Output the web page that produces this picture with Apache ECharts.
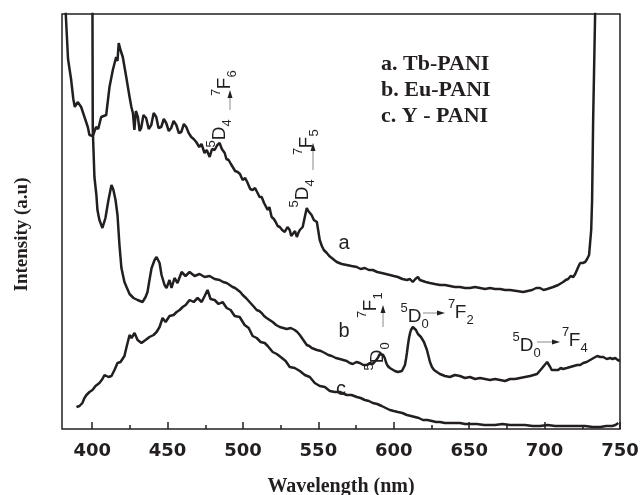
<!DOCTYPE html>
<html>
<head>
<meta charset="utf-8">
<title>PL spectra</title>
<script src="https://cdn.jsdelivr.net/npm/echarts@6/dist/echarts.min.js"></script>
<style>
	html, body { margin: 0; padding: 0; background: #fff; }
	#chart { width: 641px; height: 495px; }
</style>
</head>
<body>
<div id="chart"></div>
<script>
// wavelength (nm), intensity (a.u., arbitrary scale 0-415)
var curveA = [[381,480],[382.5,415],[384,370],[386,350],[387.5,330],[388.5,322],[390.4,327],[392.7,322],[394.9,312],[397.1,302],[398.2,294],[400.4,293],[402.6,302],[404,300],[406,312],[409.3,314],[411.5,342],[413.7,359],[415.9,372],[416.8,368],[417.6,386],[419,378],[420.3,372],[422.6,352],[424.8,332],[426,322],[427,316],[428,299],[429,318],[430.3,312],[431.5,298],[432.5,301],[434,314],[435.8,311],[437.5,300],[439.2,304],[440.8,316],[442.5,312],[444,301],[445.8,302],[447.5,310],[449.1,306],[450.8,298],[452.4,301],[454,308],[455.8,304],[457.5,296],[459.1,297],[460.8,305],[462.4,302],[464,296],[465.7,292],[467.3,290],[469,287],[471,282],[472.5,285],[474.5,276],[476,279],[477.9,272],[479.5,280],[481.2,279],[483,284],[484.5,286],[486,280],[487.9,276],[489,270],[490.5,269],[492,265],[493.1,266],[494.8,258],[496.5,257],[498,255],[499.8,249],[501.5,251],[503.1,246],[504.8,240],[506.4,239],[508,241],[509.7,236],[511,232],[512.4,232],[514,226],[516.4,219],[517.5,222],[519,212],[520.5,210],[521.7,207],[523,203],[524.4,202],[526,199],[527.7,197],[529.5,202],[531,199],[532,193],[533,194],[534.5,198],[535.7,192],[536.7,196],[537.7,199],[539.6,202],[541,212],[542.3,221],[543.3,218],[544.3,217],[545.5,214],[547,209],[549,207],[550.9,189],[552.3,183],[553.6,179],[555.6,176],[557.2,173],[558.9,171],[560.5,169],[562.2,167],[565.5,165],[568.8,164],[572,163],[575.5,162],[578,160],[580.8,161],[583.5,159],[586.1,159],[589,157],[592,156],[594.7,155],[597.4,154],[600,153],[602.7,152],[605.7,150],[608.7,149],[610.7,150],[612.6,147],[614.3,150],[616,152],[617.3,149],[618.6,147],[621.2,147],[623.9,146],[627.2,145],[630.6,144],[633.9,144],[637.2,143],[640.5,142],[643.9,142],[647.2,141],[650.5,141],[653.9,142],[657.2,141],[660.5,140],[663.8,141],[667.1,140],[670.5,140],[673.8,139],[677.1,139],[681.5,138],[685.8,137],[688.7,138],[691.7,139],[694.4,141],[697,141],[699.3,139],[701.7,140],[703.7,141],[705.7,142],[709,144],[712.3,147],[714,149],[715.6,150],[717.3,153],[719,152],[720.3,155],[721.6,157],[722.6,163],[723.6,166],[725.3,166],[726.9,167],[728.2,170],[729.5,174],[730.9,199],[731.5,229],[732.2,309],[733.5,415],[734.5,480]];

var curveB = [[400.1,480],[400.4,300],[401.5,252],[402.8,234],[403.5,219],[404.8,209],[406.8,201],[408.8,211],[410.8,229],[412.8,244],[414.1,239],[415.5,229],[416.8,214],[418.1,184],[419.4,161],[421.4,147],[422.8,142],[424.8,135],[427.4,131],[430.1,129],[433.4,127],[435.4,132],[436.7,137],[438,149],[439.4,161],[441.4,169],[442.7,172],[444.7,166],[446,154],[448,144],[449.3,141],[451.3,149],[452.6,141],[454.6,151],[456.6,146],[459.3,157],[461.9,153],[464.6,157],[467.9,153],[471.2,155],[474.6,152],[477.9,153],[481.2,150],[484.5,149],[486.8,147],[489.2,146],[491.2,144],[493.1,142],[494.8,141],[496.5,139],[498.2,137],[499.8,134],[502,131],[504.4,127],[506.8,123],[509.1,119],[510.8,118],[512.4,116],[514,113],[515.7,111],[517.7,109],[519.7,107],[522,104],[524.4,102],[526.7,101],[529,100],[531.7,101],[534.3,99],[536,97],[537.7,94],[540,89],[542.3,84],[544,83],[545.6,81],[547.3,80],[549,79],[551.7,78],[554.3,76],[556.6,74],[558.9,73],[561.6,71],[564.2,70],[566.5,69],[568.8,68],[570.8,66],[572.8,65],[575.2,67],[577.5,66],[579.8,64],[582.1,64],[584.1,66],[586.1,65],[587.8,68],[589.4,71],[590.7,75],[592,77],[593,74],[594,71],[595,66],[596,63],[597.4,61],[598.7,59],[600.7,58],[602.7,57],[604,58],[605.4,58],[606.4,61],[607.4,64],[608.1,70],[608.7,76],[609.4,84],[610.1,91],[610.8,96],[611.4,99],[612,101],[612.6,102],[613.7,101],[614.7,99],[615.4,97],[616,95],[617,93],[618,92],[619,90],[620,87],[621,83],[622,79],[623,73],[624,67],[625.3,62],[626.7,59],[628.6,57],[630.6,55],[633.9,53],[637.2,52],[640.5,54],[643.9,53],[647.2,51],[650.5,52],[653.9,50],[657.2,51],[660.5,50],[663.8,49],[667.1,50],[670.5,49],[673.8,48],[677.1,50],[680.4,50],[683.7,51],[687,52],[690.4,53],[692.7,54],[695,55],[696.7,58],[698.4,61],[700,64],[701.7,67],[702.7,65],[703.7,62],[704.7,59],[705.7,57],[707.4,59],[709,59],[710.7,61],[712.3,60],[714.7,61],[717,62],[719.3,63],[721.6,64],[723.6,64],[725.6,66],[727.9,67],[730.2,69],[732.5,71],[734.9,73],[736.9,72],[738.9,72],[741.2,70],[743.5,71],[745.1,70],[746.8,71],[748.5,69],[750,68]];

var curveC = [[389.6,22],[391.6,23],[393.5,26],[394.9,31],[396.2,34],[398.2,37],[400.2,39],[402.2,43],[404.8,46],[406.8,50],[408.2,54],[410.8,52],[412.8,53],[414.8,59],[416.8,66],[418.8,67],[420.1,69],[421.4,73],[422.8,82],[424.8,94],[426.1,91],[428.1,96],[430.1,89],[432.7,86],[435.4,89],[438,92],[440.7,94],[442.7,97],[444.7,102],[446.7,111],[448.7,107],[451.3,113],[454,114],[456,117],[458,119],[460,122],[462,124],[464.6,129],[467.3,127],[469.9,131],[472.6,127],[474.6,133],[476.5,139],[478.5,130],[481.2,129],[483.8,125],[486.5,127],[489.2,121],[491.8,119],[494.5,113],[497.8,112],[501.1,104],[503.8,101],[506.4,93],[509.1,91],[511.7,87],[514.4,86],[516.4,83],[519.7,77],[522.4,75],[525,72],[528.3,68],[531,62],[534.3,61],[537.7,58],[541,54],[544.3,52],[547.6,46],[550.9,43],[554.3,42],[557.6,38],[560.9,37],[564.2,37],[568.8,34],[572,34],[575.5,32],[578,31],[580.8,29],[583.5,28],[586.1,26],[589,25],[592,23],[594.7,21],[597.4,19],[600,18],[602.7,17],[605.7,16],[608.7,14],[611.4,13],[614,12],[616.6,11],[619.3,9],[622.3,9],[625.3,8],[628,7],[630.6,7],[633.9,6],[637.2,6],[640.5,6],[643.9,6],[647.2,5],[650.5,5],[655,5],[660,4],[667.2,4],[672,5],[677.1,4],[682,4],[687,4],[692,3],[697,3],[702,4],[707,3],[712,3],[716.9,3],[721.9,3],[726.9,3],[731.9,2],[736.9,2],[740.9,3],[744.9,3],[747,4],[748.9,6]];

var seriesNames = ['a. Tb-PANI', 'b. Eu-PANI', 'c. Y - PANI'];
var curveLetters = ['a', 'b', 'c'];
var majorTicks = [400, 450, 500, 550, 600, 650, 700, 750];
var minorTicks = [425, 475, 525, 575, 625, 675, 725];

var INK = '#231f20';
var SERIF = '"Liberation Serif", "Times New Roman", serif';

var chart = {
	el: 'chart',
	init: function() {
		var myChart = echarts.init(document.getElementById(this.el));
		myChart.setOption(this.option());
	},
	// one "5D4 -> 7F6" style label; local frame runs along the text
	transition: function(x, y, rot, lo, up, a0, a1, ay, u0, uy) {
		var big = '19px "Liberation Sans", Arial, sans-serif';
		var small = '13px "Liberation Sans", Arial, sans-serif';
		var txt = function(t, tx, ty, font) {
			return {
				type: 'text', x: tx, y: ty,
				style: { text: t, font: font, fill: INK, textAlign: 'center', textVerticalAlign: 'middle' }
			};
		};
		return {
			type: 'group', x: x, y: y, rotation: rot,
			children: [
				txt(lo[0], -4, -9, small),
				txt(lo[1], 6.5, 0, big),
				txt(lo[2], 17, 7, small),
				{ type: 'line', shape: { x1: a0, y1: ay, x2: a1 - 6, y2: ay }, style: { stroke: '#8a8a8a', lineWidth: 1 } },
				{ type: 'polygon', shape: { points: [[a1 - 8, ay - 2.5], [a1, ay], [a1 - 8, ay + 2.5]] }, style: { fill: INK } },
				txt(up[0], u0 + 3.5, uy - 9, small),
				txt(up[1], u0 + 12.5, uy, big),
				txt(up[2], u0 + 22, uy + 7, small)
			]
		};
	},
	graphics: function() {
		var els = [];
		var legendFont = 'bold 22px ' + SERIF;
		for (var i = 0; i < seriesNames.length; i++) {
			els.push({
				type: 'text', x: 381, y: 64 + i * 26,
				style: { text: seriesNames[i], font: legendFont, fill: INK, textVerticalAlign: 'middle' }
			});
		}
		var letterPos = [[344, 243], [344, 331], [341, 389]];
		for (var j = 0; j < curveLetters.length; j++) {
			els.push({
				type: 'text', x: letterPos[j][0], y: letterPos[j][1],
				style: { text: curveLetters[j], font: '20px "Liberation Sans", Arial, sans-serif', fill: INK, textAlign: 'center', textVerticalAlign: 'middle' }
			});
		}
		var v = Math.PI / 2;
		els.push(this.transition(220, 140, v, ['5', 'D', '4'], ['7', 'F', '6'], 30, 50, 10, 44, 5));
		els.push(this.transition(303, 200, v, ['5', 'D', '4'], ['7', 'F', '5'], 30, 57, 10, 45, 4));
		els.push(this.transition(378, 363, v, ['5', 'D', '0'], ['7', 'F', '1'], 36, 58, 5, 45, -7));
		els.push(this.transition(408, 317, 0, ['5', 'D', '0'], ['7', 'F', '2'], 15, 37, -4, 40, -4));
		els.push(this.transition(520, 346, 0, ['5', 'D', '0'], ['7', 'F', '4'], 17, 40, -4, 42, -5));
		return els;
	},
	option: function() {
		var lineStyle = { color: INK, width: 2.5 };
		var curves = [curveA, curveB, curveC];
		var series = [];
		for (var i = 0; i < curves.length; i++) {
			series.push({
				name: seriesNames[i],
				type: 'line',
				data: curves[i],
				showSymbol: false,
				symbol: 'none',
				clip: true,
				lineStyle: lineStyle,
				animation: false
			});
		}
		return {
			backgroundColor: '#fff',
			animation: false,
			grid: {
				left: 62, right: 21, top: 14, bottom: 66,
				outerBoundsMode: 'none',
				show: true, borderColor: INK, borderWidth: 1.5
			},
			xAxis: [
				{
					type: 'value', min: 380, max: 750,
					name: 'Wavelength (nm)', nameLocation: 'middle', nameGap: 48,
					nameTextStyle: { fontFamily: SERIF, fontWeight: 'bold', fontSize: 20, color: INK },
					axisLine: { show: false },
					splitLine: { show: false },
					axisTick: { inside: true, length: 7, customValues: majorTicks, lineStyle: { color: INK, width: 1.5 } },
					axisLabel: { customValues: majorTicks, margin: 13, color: INK, fontFamily: 'DejaVu Sans', fontWeight: 'bold', fontSize: 18 }
				},
				{
					type: 'value', min: 380, max: 750, position: 'bottom',
					axisLine: { show: false },
					splitLine: { show: false },
					axisLabel: { show: false },
					axisTick: { inside: true, length: 4, customValues: minorTicks, lineStyle: { color: INK, width: 1.5 } }
				}
			],
			yAxis: {
				type: 'value', min: 0, max: 415,
				name: 'Intensity (a.u)', nameLocation: 'middle', nameGap: 30,
				nameTextStyle: { fontFamily: SERIF, fontWeight: 'bold', fontSize: 19, color: INK, padding: [0, 26, 0, 0] },
				axisLine: { show: false },
				axisTick: { show: false },
				axisLabel: { show: false },
				splitLine: { show: false }
			},
			series: series,
			graphic: this.graphics()
		};
	}
};

chart.init();
</script>
</body>
</html>
